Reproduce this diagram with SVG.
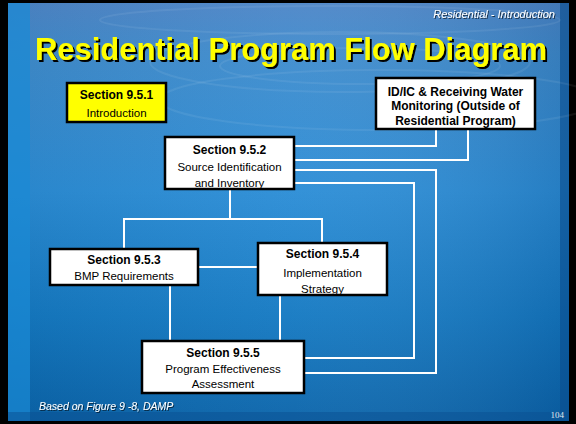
<svg xmlns="http://www.w3.org/2000/svg" width="576" height="424" viewBox="0 0 576 424">
<defs>
<linearGradient id="bg" x1="0" y1="0" x2="0" y2="1">
<stop offset="0" stop-color="#4d86c8"/>
<stop offset="0.12" stop-color="#3f8ccd"/>
<stop offset="0.45" stop-color="#2b8dd6"/>
<stop offset="0.75" stop-color="#1479c2"/>
<stop offset="1" stop-color="#0a64aa"/>
</linearGradient>
<linearGradient id="hz" x1="0" y1="0" x2="1" y2="0">
<stop offset="0" stop-color="#000" stop-opacity="0.05"/>
<stop offset="0.5" stop-color="#fff" stop-opacity="0.04"/>
<stop offset="1" stop-color="#002050" stop-opacity="0.15"/>
</linearGradient>
<filter id="sh" x="-5%" y="-20%" width="110%" height="150%">
<feDropShadow dx="2" dy="2" stdDeviation="0.3" flood-color="#000" flood-opacity="1"/>
</filter>
<filter id="sh2" x="-5%" y="-20%" width="110%" height="150%">
<feDropShadow dx="1" dy="1" stdDeviation="0.3" flood-color="#000" flood-opacity="0.6"/>
</filter>
<style>
.box{fill:#fff;stroke:#000;stroke-width:2.5}
.yel{fill:#ffff00;stroke:#000;stroke-width:2.5}
.t{font-family:"Liberation Sans",Arial,sans-serif;font-size:11.5px;fill:#000;text-anchor:middle}
.b{font-weight:bold;font-size:12px}
.c{fill:none;stroke:#fff;stroke-width:2}
.rip{fill:none;stroke:#fff;stroke-opacity:0.07;stroke-width:2}
.ital{font-family:"Liberation Sans",Arial,sans-serif;font-style:italic;fill:#fff}
</style>
</defs>
<rect x="0" y="0" width="576" height="424" fill="#000"/>
<rect x="8" y="3" width="561" height="418" fill="url(#bg)"/>
<rect x="8" y="3" width="561" height="418" fill="url(#hz)"/>
<rect x="8" y="3" width="22" height="418" fill="#1a8ad6" opacity="0.7"/>
<rect x="560" y="3" width="9" height="418" fill="#0a4c8e" opacity="0.6"/>
<rect x="8" y="412" width="561" height="9" fill="#0a4f92" opacity="0.5"/>
<g id="ripples">
<ellipse class="rip" cx="340" cy="62" rx="190" ry="30"/>
<ellipse class="rip" cx="360" cy="66" rx="140" ry="18"/>
<ellipse class="rip" cx="330" cy="20" rx="230" ry="14"/>
<ellipse class="rip" cx="380" cy="100" rx="220" ry="30"/>
</g>
<g id="header">
<text class="ital" x="555" y="18" font-size="11" text-anchor="end" filter="url(#sh2)">Residential - Introduction</text>
<text x="35" y="60" font-family="Liberation Sans,Arial,sans-serif" font-weight="bold" font-size="31" fill="#ffff00" textLength="512" lengthAdjust="spacingAndGlyphs" filter="url(#sh)">Residential Program Flow Diagram</text>
</g>
<g id="connectors">
<polyline class="c" points="294,146 436,146 436,129"/>
<polyline class="c" points="294,160 468,160 468,129"/>
<polyline class="c" points="294,170 436,170 436,373 304,373"/>
<polyline class="c" points="294,183 414,183 414,358 304,358"/>
<polyline class="c" points="230,189 230,219"/>
<polyline class="c" points="124,249 124,219 322,219 322,243"/>
<line class="c" x1="198" y1="267" x2="258" y2="267"/>
<line class="c" x1="170" y1="285" x2="170" y2="341"/>
<line class="c" x1="280" y1="295" x2="280" y2="341"/>
</g>
<g id="n951">
<rect class="yel" x="67" y="83" width="99" height="39"/>
<text class="t b" x="116.5" y="99">Section 9.5.1</text>
<text class="t" x="116.5" y="117">Introduction</text>
</g>
<g id="nidic">
<rect class="box" x="376" y="78" width="159" height="51"/>
<text class="t b" x="455.5" y="96">ID/IC &amp; Receiving Water</text>
<text class="t b" x="455.5" y="110">Monitoring (Outside of</text>
<text class="t b" x="455.5" y="125">Residential Program)</text>
</g>
<g id="n952">
<rect class="box" x="165" y="137" width="129" height="52"/>
<text class="t b" x="229.5" y="154">Section 9.5.2</text>
<text class="t" x="229.5" y="171">Source Identification</text>
<text class="t" x="229.5" y="187">and Inventory</text>
</g>
<g id="n953">
<rect class="box" x="50" y="249" width="148" height="36"/>
<text class="t b" x="124" y="264">Section 9.5.3</text>
<text class="t" x="124" y="280">BMP Requirements</text>
</g>
<g id="n954">
<rect class="box" x="258" y="243" width="129" height="52"/>
<text class="t b" x="322.5" y="258">Section 9.5.4</text>
<text class="t" x="322.5" y="277">Implementation</text>
<text class="t" x="322.5" y="293">Strategy</text>
</g>
<g id="n955">
<rect class="box" x="142" y="341" width="162" height="52"/>
<text class="t b" x="223" y="357">Section 9.5.5</text>
<text class="t" x="223" y="373">Program Effectiveness</text>
<text class="t" x="223" y="388">Assessment</text>
</g>
<g id="footer">
<text class="ital" x="39" y="410" font-size="10.5" filter="url(#sh2)">Based on Figure 9 -8, DAMP</text>
<text x="564" y="418" font-family="Liberation Serif,Times New Roman,serif" font-size="9" fill="#e0e8f0" text-anchor="end">104</text>
</g>
</svg>
